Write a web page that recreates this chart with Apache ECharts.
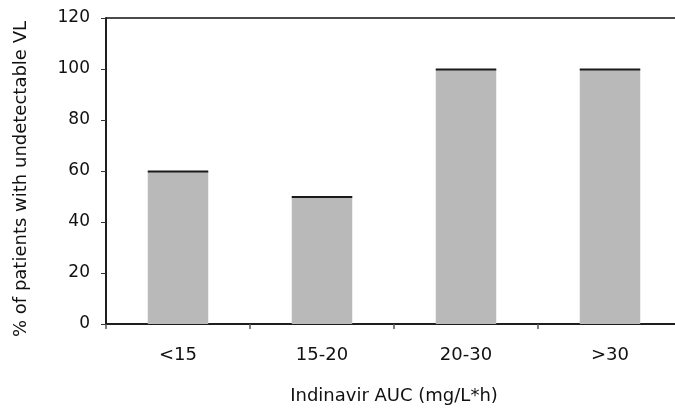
<!DOCTYPE html>
<html>
<head>
<meta charset="utf-8">
<script src="https://cdn.jsdelivr.net/npm/echarts@6/dist/echarts.min.js"></script>
<style>
  html, body { margin: 0; padding: 0; background: #fff; }
  #chart { width: 675px; height: 411px; }
</style>
</head>
<body>
<div id="chart"></div>
<script>
// AUC groups and share of patients with undetectable viral load
const categories = ['<15', '15-20', '20-30', '>30'];
const undetectablePct = [60, 50, 100, 100];
const yTicks = [0, 20, 40, 60, 80, 100, 120];

const FONT = 'DejaVu Sans';
const chart = echarts.init(document.getElementById('chart'));

// Grey bar with a dark cap along its top edge
function renderBar(params, api) {
  const idx = api.value(0);
  const val = api.value(1);
  const top = api.coord([idx, val]);
  const base = api.coord([idx, 0]);
  const bandW = api.size([1, 0])[0];
  const w = bandW * 0.42;
  const x = top[0] - w / 2;
  return {
    type: 'group',
    children: [
      {
        type: 'rect',
        shape: { x: x, y: top[1], width: w, height: base[1] - top[1] },
        style: { fill: '#b9b9b9' }
      },
      {
        type: 'line',
        shape: { x1: x, y1: top[1] + 0.5, x2: x + w, y2: top[1] + 0.5 },
        style: { stroke: '#1a1a1a', lineWidth: 2 }
      }
    ]
  };
}

chart.setOption({
  animation: false,
  backgroundColor: '#fff',
  grid: {
    left: 106, top: 18, right: -7, bottom: 87,
    outerBoundsMode: 'none',
    containLabel: false,
    show: true, borderColor: '#111', borderWidth: 1.5, backgroundColor: 'transparent'
  },
  xAxis: {
    type: 'category',
    data: categories,
    boundaryGap: true,
    name: 'Indinavir AUC (mg/L*h)',
    nameLocation: 'middle',
    nameGap: 63,
    nameTextStyle: { fontFamily: FONT, fontSize: 18, color: '#111' },
    axisLine: { lineStyle: { color: '#111', width: 1.5 } },
    axisTick: { show: true, length: 5, lineStyle: { color: '#555', width: 1.5 } },
    axisLabel: { fontFamily: FONT, fontSize: 18, color: '#111', margin: 22 }
  },
  yAxis: {
    type: 'value',
    min: yTicks[0],
    max: yTicks[yTicks.length - 1],
    interval: 20,
    name: '% of patients with undetectable VL',
    nameLocation: 'middle',
    nameGap: 76,
    nameTextStyle: { fontFamily: FONT, fontSize: 18, color: '#111', padding: [0, 16, 0, 0] },
    axisLine: { show: true, lineStyle: { color: '#111', width: 1.5 } },
    axisTick: { show: true, length: 5, lineStyle: { color: '#333', width: 1 } },
    axisLabel: { fontFamily: FONT, fontSize: 17, color: '#111', margin: 16 },
    splitLine: { show: false }
  },
  series: [{
    type: 'custom',
    renderItem: renderBar,
    encode: { x: 0, y: 1 },
    data: undetectablePct.map((v, i) => [i, v])
  }]
});
</script>
</body>
</html>
